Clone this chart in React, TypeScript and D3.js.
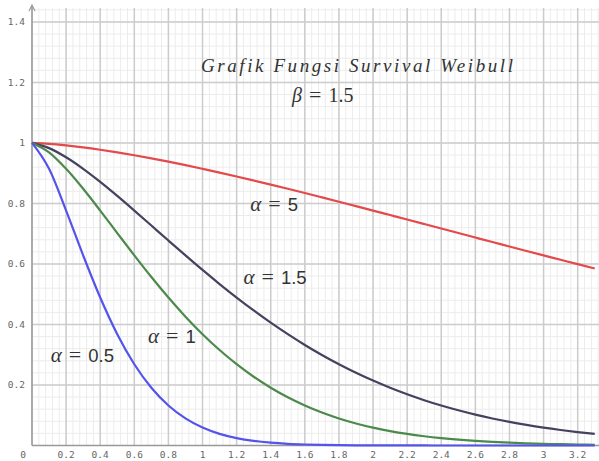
import React from "react";
import * as d3 from "d3";

const tValues = [0, 0.1, 0.2, 0.3, 0.4, 0.5, 0.6, 0.7, 0.8, 0.9, 1.0, 1.1, 1.2, 1.3, 1.4, 1.5, 1.6, 1.7, 1.8, 1.9, 2.0, 2.1, 2.2, 2.3, 2.4, 2.5, 2.6, 2.7, 2.8, 2.9, 3.0, 3.1, 3.2, 3.3];

const alpha05 = [1, 0.9145, 0.7765, 0.6283, 0.489, 0.3679, 0.2686, 0.1908, 0.1321, 0.0894, 0.0591, 0.0383, 0.0243, 0.0151, 0.0092, 0.0055, 0.0033, 0.0019, 0.0011, 0.0006, 0.0003, 0.0002, 0.0001, 0.0001, 0, 0, 0, 0, 0, 0, 0, 0, 0, 0];
const alpha1 = [1, 0.9689, 0.9145, 0.8485, 0.7765, 0.7022, 0.6283, 0.5567, 0.489, 0.4258, 0.3679, 0.3155, 0.2686, 0.2272, 0.1908, 0.1593, 0.1321, 0.109, 0.0894, 0.0729, 0.0591, 0.0477, 0.0383, 0.0306, 0.0243, 0.0192, 0.0151, 0.0118, 0.0092, 0.0072, 0.0055, 0.0043, 0.0033, 0.0025];
const alpha15 = [1, 0.9829, 0.9525, 0.9144, 0.8713, 0.8249, 0.7765, 0.727, 0.6774, 0.6283, 0.5802, 0.5337, 0.489, 0.4463, 0.4059, 0.3679, 0.3323, 0.2992, 0.2686, 0.2404, 0.2145, 0.1908, 0.1693, 0.1498, 0.1321, 0.1163, 0.102, 0.0894, 0.078, 0.068, 0.0591, 0.0513, 0.0443, 0.0383];
const alpha5 = [1, 0.9972, 0.992, 0.9854, 0.9776, 0.9689, 0.9593, 0.949, 0.938, 0.9265, 0.9144, 0.902, 0.8891, 0.8758, 0.8623, 0.8485, 0.8344, 0.8201, 0.8057, 0.7911, 0.7765, 0.7617, 0.7469, 0.732, 0.7171, 0.7022, 0.6873, 0.6724, 0.6577, 0.6429, 0.6283, 0.6138, 0.5993, 0.585];

const seriesNames = ["5", "1.5", "1", "0.5"];
const seriesValues = [alpha5, alpha15, alpha1, alpha05];
const seriesColors = ["#e4494b", "#43435f", "#4c8a4c", "#5454ec"];
// label anchor positions in data units
const labelX = [1.28, 1.24, 0.68, 0.11];
const labelY = [0.775, 0.535, 0.34, 0.275];

const xTickValues = [0.2, 0.4, 0.6, 0.8, 1, 1.2, 1.4, 1.6, 1.8, 2, 2.2, 2.4, 2.6, 2.8, 3, 3.2];
const yTickValues = [0.2, 0.4, 0.6, 0.8, 1, 1.2, 1.4];

const W = 599;
const H = 461;

export default function App() {
  const x = d3.scaleLinear().domain([0, 3.325]).range([32, 599]);
  const y = d3.scaleLinear().domain([0, 1.446]).range([445.5, 8]);

  const minorX = d3.range(0, 3.33, 0.04);
  const minorY = d3.range(0, 1.45, 0.04);
  const majorX = d3.range(0.2, 3.33, 0.2);
  const majorY = d3.range(0.2, 1.45, 0.2);

  const line = d3
    .line<number>()
    .x((_, i) => x(tValues[i]))
    .y((d) => y(d))
    .curve(d3.curveMonotoneX);

  const tickFont = "'DejaVu Sans Mono', monospace";

  return (
    <svg
      width={W}
      height={H}
      style={{ position: "absolute", left: 0, top: 0, background: "#fff" }}
    >
      <rect x={0} y={0} width={W} height={H} fill="#fff" />
      {minorX.map((v, i) => (
        <line key={"mx" + i} x1={x(v)} x2={x(v)} y1={y(1.446)} y2={y(0)} stroke="#ececec" strokeWidth={1} />
      ))}
      {minorY.map((v, i) => (
        <line key={"my" + i} x1={x(0)} x2={W} y1={y(v)} y2={y(v)} stroke="#ececec" strokeWidth={1} />
      ))}
      {majorX.map((v, i) => (
        <line key={"Mx" + i} x1={x(v)} x2={x(v)} y1={y(1.446)} y2={y(0)} stroke="#cccccc" strokeWidth={1.5} />
      ))}
      {majorY.map((v, i) => (
        <line key={"My" + i} x1={x(0)} x2={W} y1={y(v)} y2={y(v)} stroke="#cccccc" strokeWidth={1.5} />
      ))}
      {/* axes */}
      <line x1={x(0)} x2={W} y1={y(0)} y2={y(0)} stroke="#999" strokeWidth={1.6} />
      <line x1={x(0)} x2={x(0)} y1={y(0)} y2={6} stroke="#999" strokeWidth={1.6} />
      <path d={`M${x(0) - 3},${11} L${x(0)},${5} L${x(0) + 3},${11}`} fill="none" stroke="#999" strokeWidth={1.2} />

      {xTickValues.map((v, i) => (
        <text key={"xt" + i} x={x(v)} y={458} textAnchor="middle" fontFamily={tickFont} fontSize={9.5} fill="#666">
          {String(v)}
        </text>
      ))}
      <text x={23} y={458} textAnchor="middle" fontFamily={tickFont} fontSize={9.5} fill="#666">0</text>
      {yTickValues.map((v, i) => (
        <text key={"yt" + i} x={25} y={y(v) + 3.5} textAnchor="end" fontFamily={tickFont} fontSize={9.5} fill="#666">
          {String(v)}
        </text>
      ))}

      {seriesValues.map((vals, i) => (
        <path key={"s" + i} d={line(vals) || ""} fill="none" stroke={seriesColors[i]} strokeWidth={2.2} />
      ))}

      {seriesNames.map((n, i) => (
        <text key={"l" + i} x={x(labelX[i])} y={y(labelY[i])} fontSize={18.5} fill="#333">
          <tspan fontFamily="'Liberation Serif', serif" fontStyle="italic" fontSize={21}>α</tspan>
          <tspan fontFamily="'Liberation Serif', serif" fontSize={22} dx={7}>=</tspan>
          <tspan fontFamily="'Liberation Sans', sans-serif" dx={7}>{n}</tspan>
        </text>
      ))}

      <text x={201} y={72} fontFamily="'Liberation Serif', serif" fontStyle="italic" fontSize={19} fill="#333" textLength={312} lengthAdjust="spacing">
        Grafik Fungsi Survival Weibull
      </text>
      <text x={292} y={102} fontFamily="'Liberation Serif', serif" fontSize={20} fill="#333">
        <tspan fontStyle="italic">β</tspan>
        <tspan fontSize={22} dx={7}>=</tspan>
        <tspan dx={7}>1.5</tspan>
      </text>
    </svg>
  );
}
